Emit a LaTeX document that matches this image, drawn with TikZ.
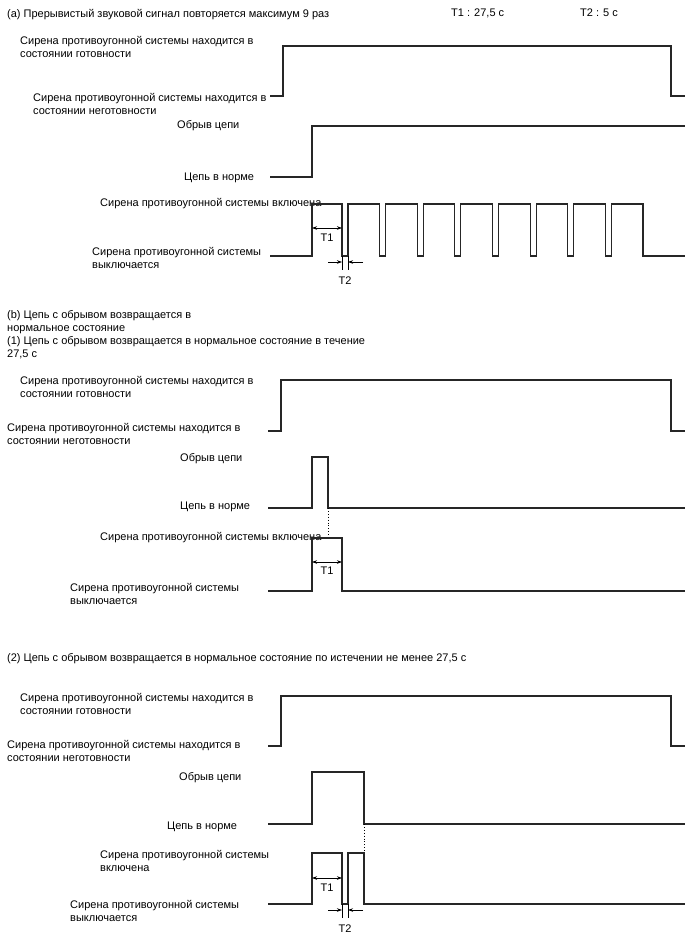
\documentclass[tikz,border=0pt]{standalone}
\usepackage{fontspec}
\setmainfont{Liberation Sans}
\usetikzlibrary{arrows.meta}
\tikzset{%
	signal/.style={
		line width=1.1pt,
		draw=black!85
	},
	sig label/.style={
		anchor=north west,
		inner sep=0pt,
		align=left,
		font=\fontsize{11}{13.3}\selectfont
	},
	dim both/.style={
		line width=0.6pt,
		{Stealth[length=5pt,width=3.5pt]}-{Stealth[length=5pt,width=3.5pt]}
	},
	dim tip/.style={
		line width=0.6pt,
		-{Stealth[length=5pt,width=3.5pt]}
	},
	guide/.style={
		line width=0.9pt,
		dotted
	},
}
\begin{document}
\begin{tikzpicture}[x=1pt,y=-1pt]
	\useasboundingbox (0,0) rectangle (688,949);

	% (a) header
	\node[sig label] (titleA) at (7,9) {(a) Прерывистый звуковой сигнал повторяется максимум 9 раз};
	\node[sig label] (hdrT1) at (451,9) {T1 : 27,5 с};
	\node[sig label] (hdrT2) at (580,9) {T2 : 5 с};

	% (a) alarm state
	\node[sig label] (readyA) at (20,36) {Сирена противоугонной системы находится в\\состоянии готовности};
	\node[sig label] (notreadyA) at (33,93) {Сирена противоугонной системы находится в\\состоянии неготовности};
	\draw[signal] (270,96) -- (283,96) -- (283,46) -- (671,46) -- (671,96) -- (685,96);

	% (a) circuit
	\node[sig label] (openA) at (177,120) {Обрыв цепи};
	\node[sig label] (normA) at (184,173) {Цепь в норме};
	\draw[signal] (270,177) -- (312,177) -- (312,126) -- (685,126);

	% (a) siren
	\node[sig label] (onA) at (100,198) {Сирена противоугонной системы включена};
	\node[sig label] (offA) at (92,247) {Сирена противоугонной системы\\выключается};
	\draw[signal] (270,256) -- (312,256) -- (312,204) -- (342,204) -- (342,256)
		\foreach \k in {0,...,7} {
			-- ({348+37.63*\k},256) -- ({348+37.63*\k},204) -- ({379.6+37.63*\k},204) -- ({379.6+37.63*\k},256)
		} -- (685,256);

	% (a) T1 and T2
	\coordinate (t1aL) at (312,228);
	\coordinate (t1aR) at (342,228);
	\draw[dim both] (t1aL) -- (t1aR);
	\node (t1a) at (327,238) {\fontsize{11}{13}\selectfont T1};
	\draw[line width=0.6pt] (342,256) -- (342,270);
	\draw[line width=0.6pt] (348,256) -- (348,270);
	\coordinate (t2aL) at (328,262);
	\coordinate (t2aR) at (363,262);
	\draw[dim tip] (t2aL) -- (342,262);
	\draw[dim tip] (t2aR) -- (348,262);
	\node (t2a) at (345,281) {\fontsize{11}{13}\selectfont T2};

	% (b) header
	\node[sig label] (titleB) at (7,310) {(b) Цепь с обрывом возвращается в\\нормальное состояние};
	\node[sig label] (subB) at (7,336) {(1) Цепь с обрывом возвращается в нормальное состояние в течение\\27,5 с};

	% (b) alarm state
	\node[sig label] (readyB) at (20,376) {Сирена противоугонной системы находится в\\состоянии готовности};
	\node[sig label] (notreadyB) at (7,423) {Сирена противоугонной системы находится в\\состоянии неготовности};
	\draw[signal] (268,431) -- (281,431) -- (281,380) -- (671,380) -- (671,431) -- (685,431);

	% (b) circuit
	\node[sig label] (openB) at (180,453) {Обрыв цепи};
	\node[sig label] (normB) at (180,502) {Цепь в норме};
	\draw[signal] (268,508) -- (312,508) -- (312,457) -- (328,457) -- (328,508) -- (685,508);
	\draw[guide] (328,508) -- (328,538);

	% (b) siren
	\node[sig label] (onB) at (100,532) {Сирена противоугонной системы включена};
	\node[sig label] (offB) at (70,583) {Сирена противоугонной системы\\выключается};
	\draw[signal] (268,591) -- (312,591) -- (312,538) -- (342,538) -- (342,591) -- (685,591);
	\coordinate (t1bL) at (312,562);
	\coordinate (t1bR) at (342,562);
	\draw[dim both] (t1bL) -- (t1bR);
	\node (t1b) at (327,571) {\fontsize{11}{13}\selectfont T1};

	% (2) header
	\node[sig label] (titleC) at (7,653) {(2) Цепь с обрывом возвращается в нормальное состояние по истечении не менее 27,5 с};

	% (2) alarm state
	\node[sig label] (readyC) at (20,693) {Сирена противоугонной системы находится в\\состоянии готовности};
	\node[sig label] (notreadyC) at (7,740) {Сирена противоугонной системы находится в\\состоянии неготовности};
	\draw[signal] (268,746) -- (281,746) -- (281,696) -- (671,696) -- (671,746) -- (685,746);

	% (2) circuit
	\node[sig label] (openC) at (179,772) {Обрыв цепи};
	\node[sig label] (normC) at (167,822) {Цепь в норме};
	\draw[signal] (268,824) -- (312,824) -- (312,772) -- (364,772) -- (364,824) -- (685,824);
	\draw[guide] (364,824) -- (364,853);

	% (2) siren
	\node[sig label] (onC) at (100,850) {Сирена противоугонной системы\\включена};
	\node[sig label] (offC) at (70,900) {Сирена противоугонной системы\\выключается};
	\draw[signal] (268,904) -- (312,904) -- (312,853) -- (342,853) -- (342,904) -- (348,904)
		-- (348,853) -- (364,853) -- (364,904) -- (685,904);

	% (2) T1 and T2
	\coordinate (t1cL) at (312,878);
	\coordinate (t1cR) at (342,878);
	\draw[dim both] (t1cL) -- (t1cR);
	\node (t1c) at (327,888) {\fontsize{11}{13}\selectfont T1};
	\draw[line width=0.6pt] (342,904) -- (342,918);
	\draw[line width=0.6pt] (348,904) -- (348,918);
	\coordinate (t2cL) at (328,910);
	\coordinate (t2cR) at (363,910);
	\draw[dim tip] (t2cL) -- (342,910);
	\draw[dim tip] (t2cR) -- (348,910);
	\node (t2c) at (345,929) {\fontsize{11}{13}\selectfont T2};
\end{tikzpicture}
\end{document}
